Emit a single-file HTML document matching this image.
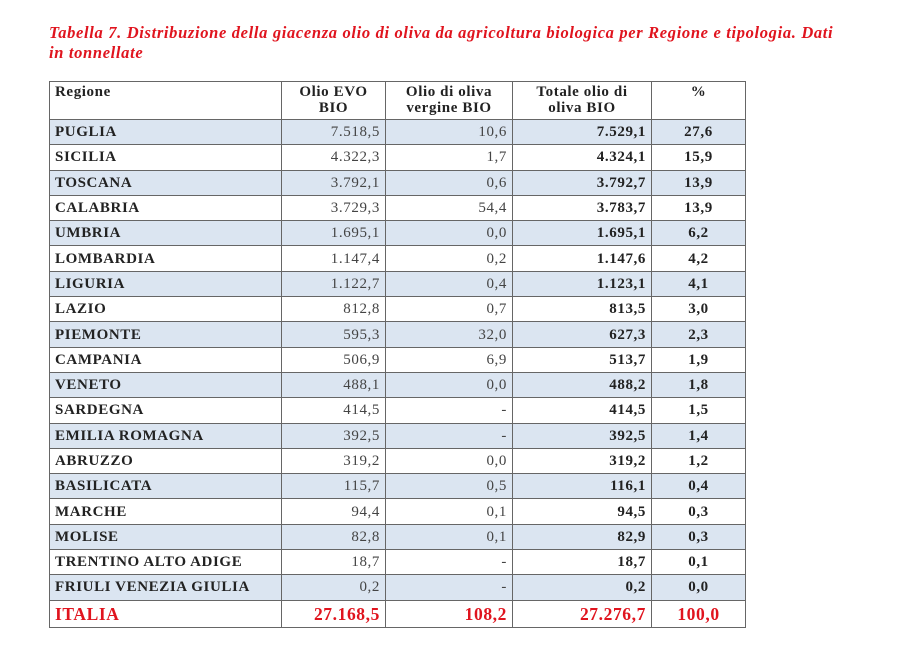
<!DOCTYPE html>
<html><head><meta charset="utf-8"><style>
body{margin:0;width:901px;height:645px;background:#fff;font-family:"Liberation Serif",serif;position:relative;overflow:hidden}
.t{position:absolute;left:49px;top:23px;width:800px;color:#e0141e;font-style:italic;font-weight:bold;font-size:16.5px;line-height:20px;letter-spacing:0.66px}
table{position:absolute;left:49px;top:81px;border-collapse:collapse;font-size:15px;color:#222;letter-spacing:0.6px}
td{border:1.5px solid #666;padding:0 5px;height:25.3px;line-height:22px;box-sizing:border-box}
tr.h td{height:38px;line-height:16px;vertical-align:top;padding-top:2px;font-weight:bold;text-align:center}
tr.h td:first-child{text-align:left}
tr.s td{background:#dbe5f1}
td:first-child{font-weight:bold;width:232px}
td:nth-child(2){width:104px;text-align:right;color:#444}
td:nth-child(3){width:127px;text-align:right;color:#444}
td:nth-child(4){width:139px;text-align:right;font-weight:bold}
td:nth-child(5){width:94px;text-align:center;font-weight:bold}
tr.i td{color:#e0141e;font-size:17.5px;font-weight:bold;height:27px}
</style></head><body>
<div class="t">Tabella 7. Distribuzione della giacenza olio di oliva da agricoltura biologica per Regione e tipologia. Dati in tonnellate</div>
<table>
<tr class="h"><td>Regione</td><td style="text-align:center;color:#222">Olio EVO<br>BIO</td><td style="text-align:center;color:#222">Olio di oliva<br>vergine BIO</td><td style="text-align:center">Totale olio di<br>oliva BIO</td><td>%</td></tr>
<tr class="s"><td>PUGLIA</td><td>7.518,5</td><td>10,6</td><td>7.529,1</td><td>27,6</td></tr>
<tr><td>SICILIA</td><td>4.322,3</td><td>1,7</td><td>4.324,1</td><td>15,9</td></tr>
<tr class="s"><td>TOSCANA</td><td>3.792,1</td><td>0,6</td><td>3.792,7</td><td>13,9</td></tr>
<tr><td>CALABRIA</td><td>3.729,3</td><td>54,4</td><td>3.783,7</td><td>13,9</td></tr>
<tr class="s"><td>UMBRIA</td><td>1.695,1</td><td>0,0</td><td>1.695,1</td><td>6,2</td></tr>
<tr><td>LOMBARDIA</td><td>1.147,4</td><td>0,2</td><td>1.147,6</td><td>4,2</td></tr>
<tr class="s"><td>LIGURIA</td><td>1.122,7</td><td>0,4</td><td>1.123,1</td><td>4,1</td></tr>
<tr><td>LAZIO</td><td>812,8</td><td>0,7</td><td>813,5</td><td>3,0</td></tr>
<tr class="s"><td>PIEMONTE</td><td>595,3</td><td>32,0</td><td>627,3</td><td>2,3</td></tr>
<tr><td>CAMPANIA</td><td>506,9</td><td>6,9</td><td>513,7</td><td>1,9</td></tr>
<tr class="s"><td>VENETO</td><td>488,1</td><td>0,0</td><td>488,2</td><td>1,8</td></tr>
<tr><td>SARDEGNA</td><td>414,5</td><td>-</td><td>414,5</td><td>1,5</td></tr>
<tr class="s"><td>EMILIA ROMAGNA</td><td>392,5</td><td>-</td><td>392,5</td><td>1,4</td></tr>
<tr><td>ABRUZZO</td><td>319,2</td><td>0,0</td><td>319,2</td><td>1,2</td></tr>
<tr class="s"><td>BASILICATA</td><td>115,7</td><td>0,5</td><td>116,1</td><td>0,4</td></tr>
<tr><td>MARCHE</td><td>94,4</td><td>0,1</td><td>94,5</td><td>0,3</td></tr>
<tr class="s"><td>MOLISE</td><td>82,8</td><td>0,1</td><td>82,9</td><td>0,3</td></tr>
<tr><td>TRENTINO ALTO ADIGE</td><td>18,7</td><td>-</td><td>18,7</td><td>0,1</td></tr>
<tr class="s"><td>FRIULI VENEZIA GIULIA</td><td>0,2</td><td>-</td><td>0,2</td><td>0,0</td></tr>
<tr class="i"><td>ITALIA</td><td style="color:#e0141e">27.168,5</td><td style="color:#e0141e">108,2</td><td>27.276,7</td><td>100,0</td></tr>
</table>
</body></html>
